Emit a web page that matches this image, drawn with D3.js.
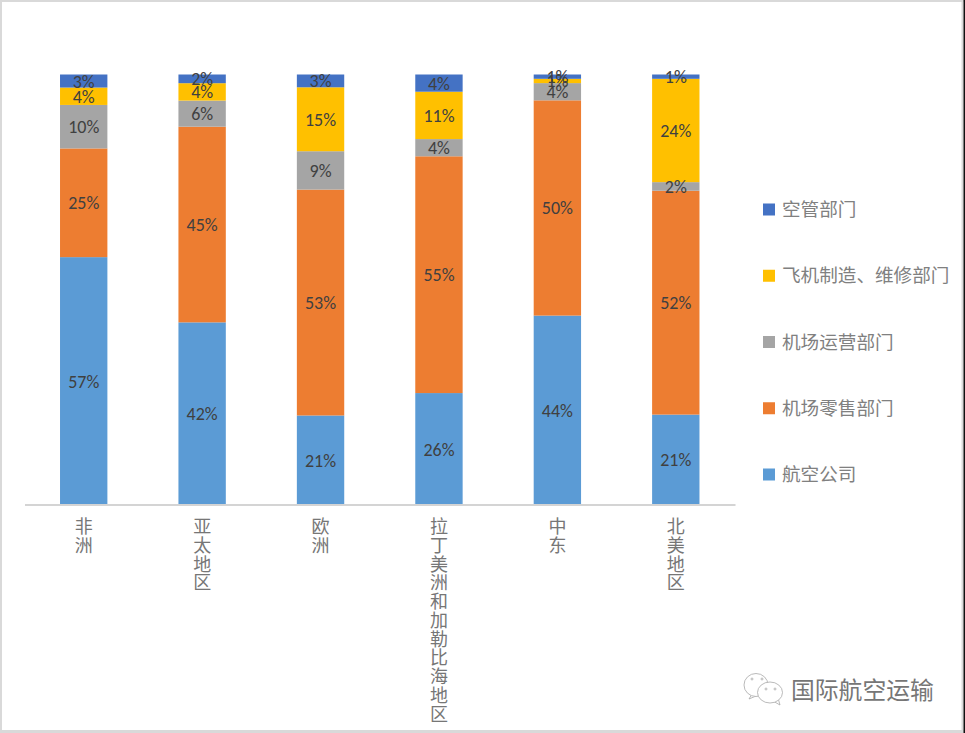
<!DOCTYPE html>
<html>
<head>
<meta charset="utf-8">
<script src="https://d3js.org/d3.v7.min.js"></script>
<style>
  html, body { margin: 0; padding: 0; background: #fff; }
  svg { display: block; }
  text { font-family: "Noto Sans CJK SC", sans-serif; }
</style>
</head>
<body>
<svg id="chart" width="965" height="733"></svg>
<script>
// values, they do not always add up to 100 so the stack is normalised
const regions = ["非洲", "亚太地区", "欧洲", "拉丁美洲和加勒比海地区", "中东", "北美地区"];
const seriesNames = ["航空公司", "机场零售部门", "机场运营部门", "飞机制造、维修部门", "空管部门"];
const airlines = [57, 42, 21, 26, 44, 21];
const retail = [25, 45, 53, 55, 50, 52];
const airportOps = [10, 6, 9, 4, 4, 2];
const manufacturing = [4, 4, 15, 11, 1, 24];
const atc = [3, 2, 3, 4, 1, 1];
const seriesValues = [airlines, retail, airportOps, manufacturing, atc];
const seriesColors = ["#5B9BD5", "#ED7D31", "#A5A5A5", "#FFC000", "#4472C4"];
const watermark = "国际航空运输";

const svg = d3.select("#chart");

// frame of the screenshot, grey with a dark edge on the right
svg.append("rect").attr("x", 0).attr("y", 0).attr("width", 965).attr("height", 2).attr("fill", "#d9d9d9");
svg.append("rect").attr("x", 0).attr("y", 0).attr("width", 2).attr("height", 733).attr("fill", "#d9d9d9");
svg.append("rect").attr("x", 0).attr("y", 730).attr("width", 965).attr("height", 3).attr("fill", "#d9d9d9");
svg.append("rect").attr("x", 961.5).attr("y", 0).attr("width", 2).attr("height", 733).attr("fill", "#d9d9d9");
svg.append("rect").attr("x", 963.5).attr("y", 0).attr("width", 1.5).attr("height", 733).attr("fill", "#111");

const x = d3.scaleBand().domain(regions).range([24.5, 735]).paddingInner(0.6).paddingOuter(0.3);
const y = d3.scaleLinear().domain([0, 1]).range([505, 74.5]);

const rows = regions.map((r, i) => {
  const row = { region: r };
  seriesNames.forEach((s, j) => { row[s] = seriesValues[j][i]; });
  return row;
});
const stacked = d3.stack().keys(seriesNames).offset(d3.stackOffsetExpand)(rows);

const groups = svg.selectAll("g.series").data(stacked).join("g")
  .attr("class", "series")
  .attr("fill", (d, i) => seriesColors[i]);

groups.selectAll("rect").data(d => d).join("rect")
  .attr("x", d => x(d.data.region))
  .attr("y", d => y(d[1]))
  .attr("width", x.bandwidth())
  .attr("height", d => y(d[0]) - y(d[1]));

// data labels go on top of all bars, some of them overlap like in the original
const labels = svg.append("g");
stacked.forEach(s => {
  labels.selectAll(null).data(s).join("text")
    .attr("x", d => x(d.data.region) + x.bandwidth() / 2)
    .attr("y", d => (y(d[0]) + y(d[1])) / 2)
    .attr("dy", "0.36em")
    .attr("text-anchor", "middle")
    .style("font-family", "Carlito, 'Open Sans', sans-serif")
    .style("font-size", "18px")
    .attr("fill", "#404040")
    .text(d => d.data[s.key] + "%");
});

// x axis, labels are stacked one character per line
const axis = svg.append("g")
  .attr("transform", "translate(0,504.5)")
  .call(d3.axisBottom(x).tickSize(0));
axis.select(".domain").attr("stroke", "#d4d4d4").attr("stroke-width", 2);
axis.selectAll(".tick text").each(function(d) {
  const t = d3.select(this).text(null)
    .attr("y", 0)
    .attr("dy", null)
    .style("font-family", "'Noto Sans CJK SC', sans-serif")
    .style("font-size", "18px")
    .attr("fill", "#767676");
  Array.from(d).forEach((ch, i) => {
    t.append("tspan").attr("x", 0).attr("y", 28.5 + i * 18.75).text(ch);
  });
});

// legend, last series on top
const legendY = d3.scalePoint().domain(seriesNames.slice().reverse()).range([209.5, 474.5]);
const legend = svg.selectAll("g.legend").data(seriesNames).join("g")
  .attr("class", "legend")
  .attr("transform", d => `translate(763,${legendY(d)})`);
legend.append("rect")
  .attr("y", -6).attr("width", 12).attr("height", 12)
  .attr("fill", (d, i) => seriesColors[i]);
legend.append("text")
  .attr("x", 19).attr("dy", "0.36em")
  .style("font-size", "18.6px")
  .attr("fill", "#808080")
  .text(d => d);

// wechat logo and account name in the corner
const logo = svg.append("g").attr("fill", "#fff").attr("stroke", "#a8a8a8").attr("stroke-width", 0.8);
logo.append("path").attr("d", "M752 694 L749 699 L756 696");
logo.append("ellipse").attr("cx", 756).attr("cy", 685).attr("rx", 12).attr("ry", 11.5);
logo.append("path").attr("d", "M773 701 L780 705 L778 698");
logo.append("ellipse").attr("cx", 770).attr("cy", 692.5).attr("rx", 12.5).attr("ry", 10.5);
logo.selectAll(null).data([[752, 679], [762, 679], [766, 689], [775, 689]]).join("circle")
  .attr("cx", d => d[0]).attr("cy", d => d[1]).attr("r", 1);
svg.append("text")
  .attr("x", 791).attr("y", 699)
  .style("font-size", "23.8px")
  .attr("fill", "#767676")
  .text(watermark);
</script>
</body>
</html>
